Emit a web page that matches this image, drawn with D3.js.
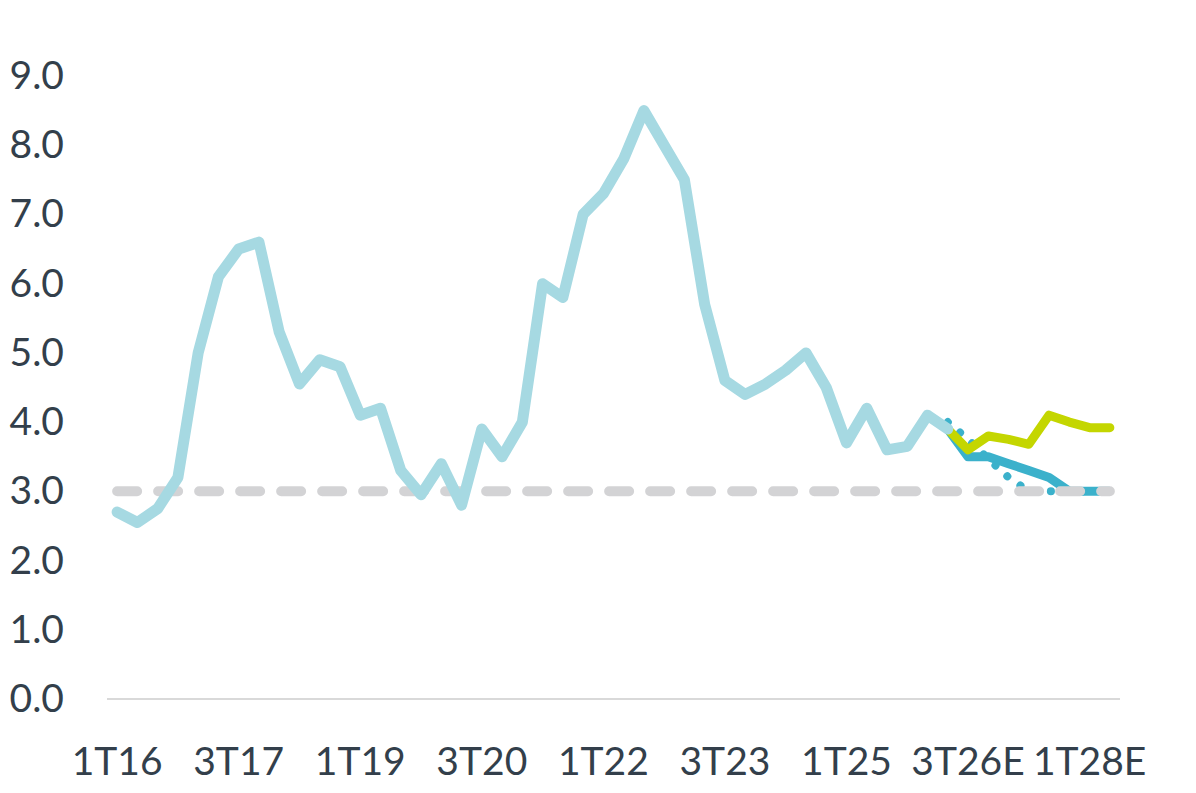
<!DOCTYPE html>
<html>
<head>
<meta charset="utf-8">
<script src="https://cdn.jsdelivr.net/npm/d3@7"></script>
<style>
    body { margin: 0; background: #fff; }
    text { font-family: Lato, "Open Sans", sans-serif; fill: #333f4b; }
</style>
</head>
<body>
<div id="chart"></div>
<script>
// quarters 1T16 .. 2T28E
var quarters = ["1T16","2T16","3T16","4T16","1T17","2T17","3T17","4T17",
    "1T18","2T18","3T18","4T18","1T19","2T19","3T19","4T19",
    "1T20","2T20","3T20","4T20","1T21","2T21","3T21","4T21",
    "1T22","2T22","3T22","4T22","1T23","2T23","3T23","4T23",
    "1T24","2T24","3T24","4T24","1T25","2T25","3T25","4T25",
    "1T26","2T26","3T26E","4T26E","1T27E","2T27E","3T27E","4T27E",
    "1T28E","2T28E"];
var tickLabels = ["1T16","3T17","1T19","3T20","1T22","3T23","1T25","3T26E","1T28E"];
var yTicks = [0,1,2,3,4,5,6,7,8,9];

// actual series (1T16 .. 2T26)
var actual = [2.7, 2.55, 2.75, 3.2, 5.0, 6.1, 6.5, 6.6, 5.3, 4.55,
    4.9, 4.8, 4.1, 4.2, 3.3, 2.95, 3.4, 2.8, 3.9, 3.5,
    4.0, 6.0, 5.8, 7.0, 7.3, 7.8, 8.5, 8.0, 7.5, 5.7,
    4.6, 4.4, 4.55, 4.75, 5.0, 4.5, 3.7, 4.2, 3.6, 3.65,
    4.1, 3.9];
// forecasts (2T26 .. 2T28E)
var forecastQuarters = quarters.slice(41);
var forecastHigh = [3.9, 3.6, 3.8, 3.75, 3.68, 4.1, 4.0, 3.92, 3.92];
var forecastBase = [3.9, 3.5, 3.5, 3.4, 3.3, 3.2, 3.0, 3.0, 3.0];
var forecastDots = [4.0, 3.75, 3.47, 3.2, 3.0, 3.0, 3.0, 3.0, 3.0];
var target = 3.0;

var width = 1196,
    height = 793,
    margin = {top: 76, right: 76, bottom: 94, left: 107};

var svg = d3.select("#chart").append("svg")
    .attr("width", width)
    .attr("height", height);

var x = d3.scaleBand()
    .domain(quarters)
    .range([margin.left, width - margin.right]);

var y = d3.scaleLinear()
    .domain([0, 9])
    .range([height - margin.bottom, margin.top]);

function cx(q) { return x(q) + x.bandwidth() / 2; }

// baseline
svg.append("line")
    .attr("x1", margin.left)
    .attr("x2", width - margin.right)
    .attr("y1", y(0))
    .attr("y2", y(0))
    .attr("stroke", "#d9d9d9")
    .attr("stroke-width", 2);

// y axis labels
var yAxis = d3.axisLeft(y)
    .tickValues(yTicks)
    .tickFormat(d3.format(".1f"))
    .tickSize(0)
    .tickPadding(0);

svg.append("g")
    .attr("transform", "translate(64,0)")
    .call(yAxis)
    .call(function(g) { g.select(".domain").remove(); })
    .selectAll("text")
    .style("font-size", "39px")
    .attr("fill", "#333f4b");

// x axis labels
var xAxis = d3.axisBottom(x)
    .tickValues(tickLabels)
    .tickSize(0)
    .tickPadding(0);

svg.append("g")
    .attr("transform", "translate(0," + (y(0) + 48) + ")")
    .call(xAxis)
    .call(function(g) { g.select(".domain").remove(); })
    .selectAll("text")
    .style("font-size", "39px")
    .attr("fill", "#333f4b");

var line = d3.line()
    .x(function(d) { return cx(d[0]); })
    .y(function(d) { return y(d[1]); });

function pairs(qs, vals) {
    return vals.map(function(v, i) { return [qs[i], v]; });
}

svg.append("path")
    .datum(pairs(forecastQuarters, forecastBase))
    .attr("d", line)
    .attr("fill", "none")
    .attr("stroke", "#3bb1cb")
    .attr("stroke-width", 9)
    .attr("stroke-linejoin", "round");

svg.append("path")
    .datum(pairs(forecastQuarters, forecastDots))
    .attr("d", line)
    .attr("fill", "none")
    .attr("stroke", "#3bb1cb")
    .attr("stroke-width", 8)
    .attr("stroke-linecap", "round")
    .attr("stroke-dasharray", "0.1,16");

// target line at 3.0
svg.append("path")
    .datum(quarters.map(function(q) { return [q, target]; }))
    .attr("d", line)
    .attr("fill", "none")
    .attr("stroke", "#d3d3d5")
    .attr("stroke-width", 10)
    .attr("stroke-linecap", "round")
    .attr("stroke-dasharray", "20,21");

svg.append("path")
    .datum(pairs(forecastQuarters, forecastHigh))
    .attr("d", line)
    .attr("fill", "none")
    .attr("stroke", "#c4d600")
    .attr("stroke-width", 9)
    .attr("stroke-linejoin", "round")
    .attr("stroke-linecap", "round");

svg.append("path")
    .datum(pairs(quarters, actual))
    .attr("d", line)
    .attr("fill", "none")
    .attr("stroke", "#a6d9e2")
    .attr("stroke-width", 11)
    .attr("stroke-linejoin", "round")
    .attr("stroke-linecap", "round");
</script>
</body>
</html>
